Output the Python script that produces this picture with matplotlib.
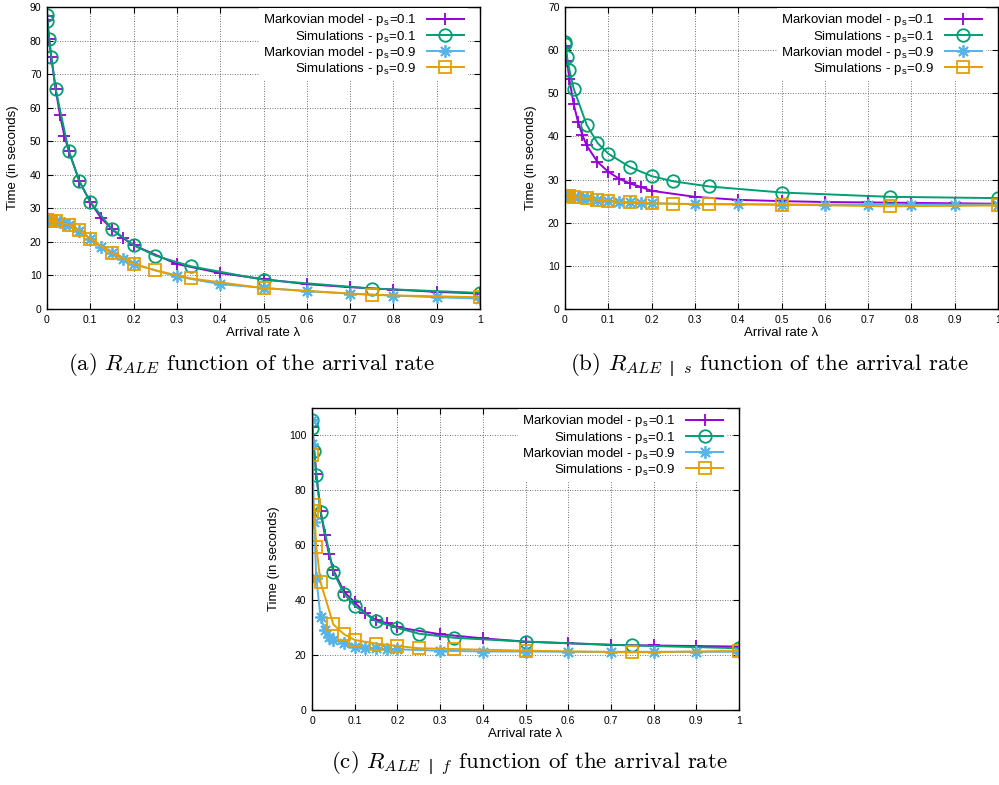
import numpy as np
import matplotlib
matplotlib.use("Agg")
import matplotlib.pyplot as plt

plt.rcParams['font.family'] = ['Liberation Sans', 'DejaVu Sans']
plt.rcParams['mathtext.fontset'] = 'custom'
plt.rcParams['mathtext.rm'] = 'Liberation Sans'
plt.rcParams['mathtext.it'] = 'cmmi10'

# arrival rates used by the model and by the simulations
x_model = [0, 0.001, 0.005, 0.01, 0.02, 0.03, 0.04, 0.05, 0.075, 0.1, 0.125,
           0.15, 0.175, 0.2, 0.3, 0.4, 0.5, 0.6, 0.7, 0.8, 0.9, 1.0]
x_sim = [0, 0.001, 0.005, 0.01, 0.02, 0.05, 0.075, 0.1, 0.15, 0.2, 0.25,
         0.333, 0.5, 0.75, 1.0]

# (a) R_ALE
a_model_01 = [87.2, 86.0, 80.4, 75.0, 65.5, 57.7, 51.7, 47.2, 38.0, 31.9, 27.1,
              23.8, 21.2, 19.0, 13.4, 10.7, 8.9, 7.4, 6.5, 5.8, 5.1, 4.6]
a_sim_01 = [87.5, 85.7, 80.5, 75.0, 65.5, 47.2, 38.0, 31.9, 23.8, 19.0, 15.9,
            12.7, 8.7, 6.1, 4.8]
a_model_09 = [26.4, 26.4, 26.3, 26.3, 26.1, 25.9, 25.5, 25.0, 23.3, 20.9, 18.5,
              16.7, 15.0, 13.4, 9.7, 7.4, 6.3, 5.3, 4.6, 4.0, 3.5, 3.1]
a_sim_09 = [26.4, 26.4, 26.3, 26.3, 26.1, 25.1, 23.4, 20.9, 16.7, 13.5, 11.5,
            9.1, 6.2, 4.2, 3.5]

# (b) R_ALE | s
b_model_01 = [61.0, 60.5, 57.4, 53.3, 47.5, 43.4, 40.4, 37.9, 34.1, 31.8, 30.2,
              29.1, 28.3, 27.4, 26.0, 25.3, 25.0, 24.8, 24.7, 24.6, 24.5, 24.4]
b_sim_01 = [61.8, 61.4, 58.3, 55.5, 51.1, 42.7, 38.5, 36.0, 32.9, 30.8, 29.6,
            28.4, 27.0, 26.0, 25.7]
b_model_09 = [26.3, 26.3, 26.2, 26.2, 26.0, 25.9, 25.8, 25.7, 25.3, 25.1, 24.9,
              24.7, 24.6, 24.5, 24.3, 24.3, 24.2, 24.2, 24.2, 24.2, 24.2, 24.2]
b_sim_09 = [26.3, 26.3, 26.3, 26.2, 26.0, 25.7, 25.3, 25.0, 24.7, 24.5, 24.4,
            24.3, 24.2, 23.8, 24.0]

# (c) R_ALE | f
c_model_01 = [105.7, 103.0, 95.0, 86.0, 72.5, 63.8, 56.7, 51.0, 43.1, 39.2, 35.2,
              32.8, 31.6, 30.1, 27.6, 26.1, 24.9, 24.3, 23.7, 23.5, 23.3, 23.1]
c_sim_01 = [105.7, 102.7, 94.5, 85.7, 72.3, 50.4, 42.3, 38.0, 32.3, 29.9, 27.8,
            26.3, 24.9, 23.5, 22.5]
c_model_09 = [105.5, 97.0, 68.6, 48.0, 34.0, 29.2, 26.7, 25.5, 24.3, 23.1, 22.7,
              22.5, 22.2, 22.1, 21.6, 21.3, 21.3, 21.2, 21.2, 21.2, 21.2, 21.2]
c_sim_09 = [93.0, 72.5, 74.5, 59.5, 46.5, 31.2, 27.6, 25.5, 24.2, 23.3, 22.5,
            22.2, 21.6, 21.0, 21.5]

labels = [r'Markovian model - p$_\mathrm{s}$=0.1', r'Simulations - p$_\mathrm{s}$=0.1',
          r'Markovian model - p$_\mathrm{s}$=0.9', r'Simulations - p$_\mathrm{s}$=0.9']
colors = ['#9400d3', '#009e73', '#56b4e9', '#e69f00']
markers = ['+', 'o', (8, 2, 0), 's']

panels = [
    dict(rect=[47, 7, 480, 309], ymax=90, ystep=10,
         data=[a_model_01, a_sim_01, a_model_09, a_sim_09],
         caption=r'(a) $R_{ALE}$ function of the arrival rate', cap=(252, 365)),
    dict(rect=[565, 7, 998, 309], ymax=70, ystep=10,
         data=[b_model_01, b_sim_01, b_model_09, b_sim_09],
         caption=r'(b) $R_{ALE\ \ |\ \ s}$ function of the arrival rate', cap=(770, 365)),
    dict(rect=[312, 408, 739, 710], ymax=110, ystep=20,
         data=[c_model_01, c_sim_01, c_model_09, c_sim_09],
         caption=r'(c) $R_{ALE\ \ |\ \ f}$ function of the arrival rate', cap=(529, 763)),
]

W, H = 999, 785
fig = plt.figure(figsize=(W / 100, H / 100), dpi=100)

for p in panels:
    x0, y0, x1, y1 = p['rect']
    ax = fig.add_axes([x0 / W, 1 - y1 / H, (x1 - x0) / W, (y1 - y0) / H])
    for i, ys in enumerate(p['data']):
        xs = x_model if i % 2 == 0 else x_sim
        ax.plot(xs, ys, color=colors[i], lw=1.4, marker=markers[i], ms=9,
                mew=1.3, mfc='none', label=labels[i])
    ax.set_xlim(0, 1)
    ax.set_ylim(0, p['ymax'])
    ax.set_xticks(np.arange(0, 1.01, 0.1))
    ax.set_xticklabels(['0'] + ['%.1f' % v for v in np.arange(0.1, 0.95, 0.1)] + ['1'])
    ax.set_yticks(np.arange(0, p['ymax'] + 0.1, p['ystep']))
    ax.tick_params(direction='in', top=True, right=True, length=4, width=0.8,
                   labelsize=7.5, pad=4)
    ax.grid(True, color='#444444', lw=0.6, ls=(0, (1, 2)))
    for s in ax.spines.values():
        s.set_linewidth(1.0)
    ax.set_xlabel('Arrival rate λ', fontsize=9.5)
    ax.set_ylabel('Time (in seconds)', fontsize=9.5)
    ax.xaxis.set_label_coords(0.5, -0.058)
    ax.yaxis.set_label_coords(-0.065 if x0 != 312 else -0.075, 0.5)
    leg = ax.legend(loc='upper right', bbox_to_anchor=(0.975, 1.0), markerfirst=False,
                    frameon=True, framealpha=1, facecolor='white', edgecolor='none',
                    fancybox=False, fontsize=9.5, handlelength=2.8, handletextpad=0.8,
                    labelspacing=0.02, borderpad=0.3, borderaxespad=0.1)
    fig.text(p['cap'][0] / W, 1 - p['cap'][1] / H, p['caption'], family='cmr10',
             fontsize=16.5, ha='center', va='center')

fig.savefig('out.png', dpi=100)
